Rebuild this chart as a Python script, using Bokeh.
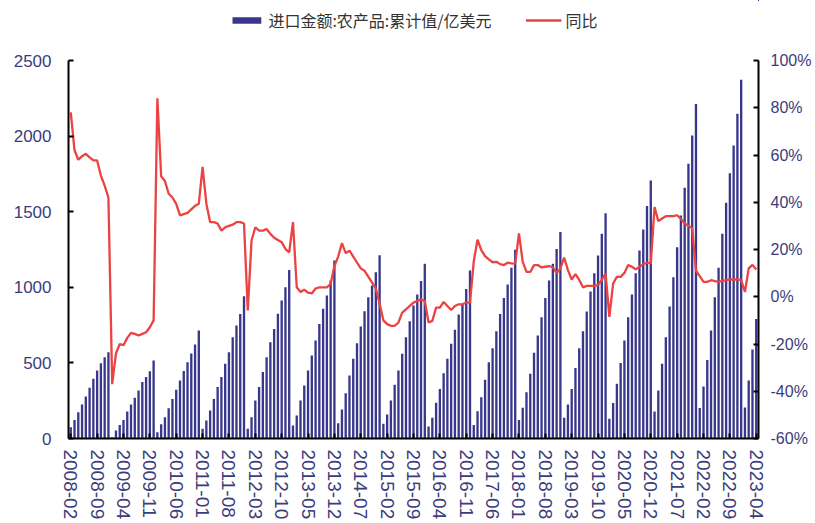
from bokeh.plotting import figure
from bokeh.layouts import column
from bokeh.models import (Range1d, LinearAxis, FixedTicker, PrintfTickFormatter,
                          Legend, LegendItem, ColumnDataSource)
from bokeh.embed import file_html
from bokeh.resources import INLINE

# ---------------- data ----------------
# cumulative import value of agricultural products (亿美元), month by month
imp_2008 = [75, 123, 174, 225, 278, 335, 395, 450, 498, 538, 571]          # Feb-Dec
imp_2009 = [9, 53, 90, 123, 179, 225, 269, 317, 373, 406, 445, 516]
imp_2010 = [42, 95, 141, 200, 262, 322, 384, 447, 505, 562, 622, 714]
imp_2011 = [64, 119, 185, 262, 340, 406, 494, 571, 670, 747, 824, 940]
imp_2012 = [64, 141, 251, 340, 439, 538, 637, 725, 825, 913, 1001, 1115]
imp_2013 = [86, 152, 251, 350, 450, 549, 648, 758, 858, 946, 1045, 1177]
imp_2014 = [101, 192, 300, 417, 527, 630, 741, 842, 935, 1012, 1100, 1212]
imp_2015 = [97, 159, 251, 355, 450, 560, 670, 776, 880, 952, 1041, 1155]
imp_2016 = [79, 137, 236, 328, 432, 527, 626, 719, 820, 891, 988, 1111]
imp_2017 = [90, 181, 273, 388, 505, 597, 710, 824, 930, 1018, 1129, 1248]
imp_2018 = [123, 203, 306, 428, 567, 681, 802, 930, 1045, 1155, 1254, 1365]
imp_2019 = [137, 225, 328, 467, 597, 710, 840, 972, 1093, 1210, 1354, 1490]
imp_2020 = [130, 234, 362, 500, 648, 802, 952, 1093, 1243, 1382, 1537, 1706]
imp_2021 = [179, 317, 494, 670, 873, 1067, 1265, 1475, 1658, 1817, 2004, 2213]
imp_2022 = [201, 344, 520, 714, 935, 1129, 1354, 1559, 1755, 1938, 2147, 2372]
imp_2023 = [205, 384, 589, 791]                                              # Jan-Apr

# year-on-year change (%)
yoy_2008 = [78, 62, 58, 59.5, 60.5, 59, 57.7, 57.7, 51.3, 47, 42]
yoy_2009 = [-37, -24, -20, -20.5, -17.4, -15.3, -15.7, -16.4, -15.7, -15, -12.9, -10]
yoy_2010 = [84, 51, 49, 43.6, 42, 39.3, 34.4, 35, 35.5, 37, 38.5, 39.4]
yoy_2011 = [55, 39.4, 31.6, 31.6, 31, 28, 29.4, 30, 30.5, 31.6, 31.6, 31]
yoy_2012 = [-5.8, 23.8, 29.4, 28, 28, 28.7, 26.6, 25, 24, 23.1, 20.2, 18.8]
yoy_2013 = [31.6, 4, 2, 3, 1.7, 1.4, 3.5, 4, 4, 4, 5.5, 13]
yoy_2014 = [17, 22.7, 18.5, 19.5, 17, 14.5, 12, 11, 8.5, 6, 3.5, -3]
yoy_2015 = [-10, -11.6, -12.3, -12.3, -10.9, -6.7, -5.3, -3.9, -2.5, -1.8, -1.1, -1.8]
yoy_2016 = [-10.9, -10.2, -4.6, -4.6, -2.2, -3.9, -5.6, -3.9, -3.2, -3.2, -2.5, -2.5]
yoy_2017 = [15, 24.2, 19.7, 17.2, 15.8, 14.6, 14.8, 13.8, 13.4, 14.4, 14.1, 14]
yoy_2018 = [26.8, 14.8, 10.5, 10.5, 13.4, 13.4, 12.4, 12.7, 13, 12.4, 10.1, 12]
yoy_2019 = [16.6, 11.3, 7.3, 9.6, 7.1, 4, 4.6, 4.6, 4.6, 5, 7.1, 9.9]
yoy_2020 = [-8.5, 5.6, 8.4, 8.4, 10.1, 13.4, 12.7, 11.6, 12.7, 13.8, 14.4, 14.1]
yoy_2021 = [38, 32, 33.1, 34.1, 34.1, 34.1, 34.5, 33, 31, 30, 29, 11]
yoy_2022 = [8.7, 6.3, 6.3, 7, 6.6, 6.3, 6.7, 7, 7.3, 7.3, 7.3, 7]
yoy_2023 = [2, 12, 13.5, 11.5]

tick_labels = ["2008-02", "2008-09", "2009-04", "2009-11", "2010-06", "2011-01",
               "2011-08", "2012-03", "2012-10", "2013-05", "2013-12", "2014-07",
               "2015-02", "2015-09", "2016-04", "2016-11", "2017-06", "2018-01",
               "2018-08", "2019-03", "2019-10", "2020-05", "2020-12", "2021-07",
               "2022-02", "2022-09", "2023-04"]

left_ticks = [0, 500, 1000, 1500, 2000, 2500]
right_ticks = [-60, -40, -20, 0, 20, 40, 60, 80, 100]

series_name = "进口金额:农产品:累计值/亿美元"
line_name = "同比"

# ---------------- assemble ----------------
import_value = (imp_2008 + imp_2009 + imp_2010 + imp_2011 + imp_2012 + imp_2013 +
                imp_2014 + imp_2015 + imp_2016 + imp_2017 + imp_2018 + imp_2019 +
                imp_2020 + imp_2021 + imp_2022 + imp_2023)
yoy = (yoy_2008 + yoy_2009 + yoy_2010 + yoy_2011 + yoy_2012 + yoy_2013 + yoy_2014 +
       yoy_2015 + yoy_2016 + yoy_2017 + yoy_2018 + yoy_2019 + yoy_2020 + yoy_2021 +
       yoy_2022 + yoy_2023)

months = []
yr, mo = 2008, 2
while (yr, mo) <= (2023, 4):
    months.append(f"{yr}-{mo:02d}")
    mo += 1
    if mo > 12:
        yr, mo = yr + 1, 1

xs = list(range(len(months)))
src = ColumnDataSource(dict(x=xs, imp=import_value, yoy=yoy, month=months))

BAR = "#38378C"
RED = "#EA4341"
TXT = "#3B3C7C"
FONT = "Liberation Sans"
BAR_W = 0.62
LINE_W = 2.3

# ---------------- main chart ----------------
p = figure(width=814, height=482, output_backend="svg", toolbar_location=None,
           x_range=Range1d(-0.6, len(months) - 0.4), y_range=Range1d(0, 2500),
           min_border_left=68, min_border_right=56, min_border_top=20,
           min_border_bottom=84)
p.extra_y_ranges = {"pct": Range1d(-60, 100)}

bars = p.vbar(x="x", top="imp", width=BAR_W, source=src, fill_color=BAR, line_color=None)
line = p.line(x="x", y="yoy", source=src, y_range_name="pct", line_color=RED, line_width=LINE_W)

p.xgrid.visible = False
p.ygrid.visible = False
p.outline_line_color = None
p.background_fill_color = "white"
p.border_fill_color = "white"

tick_idx = [months.index(t) for t in tick_labels]
xa = p.xaxis[0]
xa.ticker = FixedTicker(ticks=tick_idx)
xa.major_label_overrides = {i: months[i] for i in tick_idx}
xa.major_label_orientation = "vertical"

ya = p.yaxis[0]
ya.ticker = FixedTicker(ticks=left_ticks)

ra = LinearAxis(y_range_name="pct", ticker=FixedTicker(ticks=right_ticks),
                formatter=PrintfTickFormatter(format="%d%%"))
p.add_layout(ra, "right")

for ax, size, standoff in ((xa, "19px", 11), (ya, "17px", 17), (ra, "16px", 12)):
    ax.axis_line_color = "black"
    ax.axis_line_width = 2
    ax.major_tick_line_color = "black"
    ax.major_tick_line_width = 2
    ax.major_tick_in = 5
    ax.major_tick_out = 0
    ax.minor_tick_line_color = None
    ax.major_label_text_font = FONT
    ax.major_label_text_font_size = size
    ax.major_label_text_color = TXT
    ax.major_label_standoff = standoff

# ---------------- legend strip (shares the same glyph styles) ----------------
lg = figure(width=814, height=40, output_backend="svg", toolbar_location=None,
            x_range=Range1d(0, 1), y_range=Range1d(0, 1),
            min_border=0, outline_line_color=None)
lg.xaxis.visible = False
lg.yaxis.visible = False
lg.xgrid.visible = False
lg.ygrid.visible = False
# the main chart's data, drawn outside this strip's visible ranges so only the
# legend swatches show
lb = lg.vbar(x="x", top="imp", width=BAR_W, source=src, fill_color=BAR, line_color=None)
ll = lg.line(x="x", y="yoy", source=src, line_color=RED, line_width=LINE_W)
lb.visible = True
legend = Legend(items=[LegendItem(label=series_name, renderers=[lb]),
                       LegendItem(label=line_name, renderers=[ll])],
                orientation="horizontal", location="center",
                glyph_width=36, glyph_height=8, label_height=16,
                label_standoff=4, spacing=34, padding=0, margin=0,
                border_line_color=None, background_fill_alpha=0,
                label_text_font="Noto Sans CJK SC", label_text_font_size="16px",
                label_text_color="#333333")
lg.x_range = Range1d(-1000, -999)
lg.y_range = Range1d(-1000, -999)
lg.add_layout(legend, "center")

page = column(lg, p, spacing=0)
open("out.html", "w").write(file_html(page, INLINE))
